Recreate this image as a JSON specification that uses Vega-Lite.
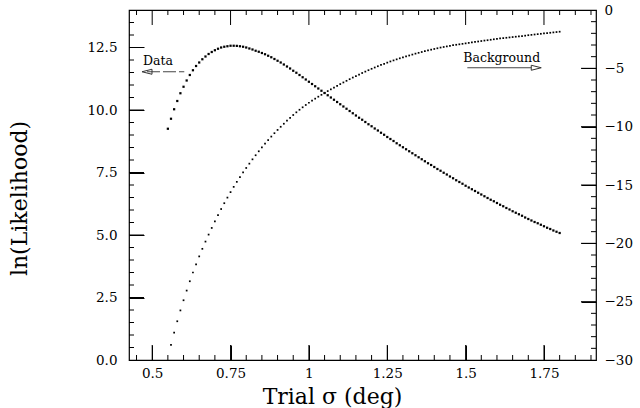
{
"$schema": "https://vega.github.io/schema/vega-lite/v6.json",
"width": 467,
"height": 350,
"autosize": {"type": "none"},
"padding": {"left": 129, "top": 10, "right": 44, "bottom": 48},
"background": "white",
"config": {"view": {"stroke": "black", "strokeWidth": 1.2}},
"datasets": {
"likelihood": [
{"x":0.55,"v":9.25},{"x":0.56,"v":9.65},{"x":0.57,"v":10.03},{"x":0.58,"v":10.36},{"x":0.59,"v":10.67},{"x":0.60,"v":10.93},{"x":0.61,"v":11.18},{"x":0.62,"v":11.40},{"x":0.63,"v":11.59},{"x":0.64,"v":11.76},{"x":0.65,"v":11.90},{"x":0.66,"v":12.03},{"x":0.67,"v":12.14},{"x":0.68,"v":12.24},{"x":0.69,"v":12.32},{"x":0.70,"v":12.39},{"x":0.71,"v":12.45},{"x":0.72,"v":12.50},{"x":0.73,"v":12.53},{"x":0.74,"v":12.55},{"x":0.75,"v":12.57},{"x":0.76,"v":12.57},{"x":0.77,"v":12.565},{"x":0.78,"v":12.55},{"x":0.79,"v":12.53},{"x":0.80,"v":12.50},{"x":0.81,"v":12.46},{"x":0.82,"v":12.42},{"x":0.83,"v":12.37},{"x":0.84,"v":12.33},{"x":0.85,"v":12.28},{"x":0.86,"v":12.23},{"x":0.87,"v":12.17},{"x":0.88,"v":12.11},{"x":0.89,"v":12.04},{"x":0.90,"v":11.97},{"x":0.91,"v":11.90},{"x":0.92,"v":11.82},{"x":0.93,"v":11.74},{"x":0.94,"v":11.66},{"x":0.95,"v":11.57},{"x":0.96,"v":11.49},{"x":0.97,"v":11.40},{"x":0.98,"v":11.31},{"x":0.99,"v":11.22},{"x":1.00,"v":11.13},{"x":1.01,"v":11.04},{"x":1.02,"v":10.95},{"x":1.03,"v":10.86},{"x":1.04,"v":10.77},{"x":1.05,"v":10.68},{"x":1.06,"v":10.59},{"x":1.07,"v":10.50},{"x":1.08,"v":10.41},{"x":1.09,"v":10.32},{"x":1.10,"v":10.23},{"x":1.11,"v":10.14},{"x":1.12,"v":10.05},{"x":1.13,"v":9.96},{"x":1.14,"v":9.87},{"x":1.15,"v":9.78},{"x":1.16,"v":9.69},{"x":1.17,"v":9.61},{"x":1.18,"v":9.52},{"x":1.19,"v":9.43},{"x":1.20,"v":9.35},{"x":1.21,"v":9.26},{"x":1.22,"v":9.18},{"x":1.23,"v":9.09},{"x":1.24,"v":9.01},{"x":1.25,"v":8.92},{"x":1.26,"v":8.84},{"x":1.27,"v":8.76},{"x":1.28,"v":8.67},{"x":1.29,"v":8.59},{"x":1.30,"v":8.51},{"x":1.31,"v":8.43},{"x":1.32,"v":8.35},{"x":1.33,"v":8.27},{"x":1.34,"v":8.19},{"x":1.35,"v":8.11},{"x":1.36,"v":8.03},{"x":1.37,"v":7.95},{"x":1.38,"v":7.87},{"x":1.39,"v":7.80},{"x":1.40,"v":7.72},{"x":1.41,"v":7.64},{"x":1.42,"v":7.57},{"x":1.43,"v":7.49},{"x":1.44,"v":7.42},{"x":1.45,"v":7.34},{"x":1.46,"v":7.27},{"x":1.47,"v":7.19},{"x":1.48,"v":7.12},{"x":1.49,"v":7.05},{"x":1.50,"v":6.97},{"x":1.51,"v":6.90},{"x":1.52,"v":6.83},{"x":1.53,"v":6.76},{"x":1.54,"v":6.69},{"x":1.55,"v":6.62},{"x":1.56,"v":6.55},{"x":1.57,"v":6.48},{"x":1.58,"v":6.41},{"x":1.59,"v":6.35},{"x":1.60,"v":6.28},{"x":1.61,"v":6.21},{"x":1.62,"v":6.15},{"x":1.63,"v":6.08},{"x":1.64,"v":6.02},{"x":1.65,"v":5.95},{"x":1.66,"v":5.89},{"x":1.67,"v":5.83},{"x":1.68,"v":5.77},{"x":1.69,"v":5.70},{"x":1.70,"v":5.64},{"x":1.71,"v":5.58},{"x":1.72,"v":5.52},{"x":1.73,"v":5.47},{"x":1.74,"v":5.41},{"x":1.75,"v":5.35},{"x":1.76,"v":5.29},{"x":1.77,"v":5.24},{"x":1.78,"v":5.18},{"x":1.79,"v":5.13},{"x":1.80,"v":5.08}
],
"background": [
{"x":0.56,"v":-28.70},{"x":0.57,"v":-27.65},{"x":0.58,"v":-26.68},{"x":0.59,"v":-25.75},{"x":0.60,"v":-24.88},{"x":0.61,"v":-24.05},{"x":0.62,"v":-23.25},{"x":0.63,"v":-22.50},{"x":0.64,"v":-21.80},{"x":0.65,"v":-21.12},{"x":0.66,"v":-20.47},{"x":0.67,"v":-19.85},{"x":0.68,"v":-19.25},{"x":0.69,"v":-18.68},{"x":0.70,"v":-18.12},{"x":0.71,"v":-17.58},{"x":0.72,"v":-17.06},{"x":0.73,"v":-16.56},{"x":0.74,"v":-16.08},{"x":0.75,"v":-15.61},{"x":0.76,"v":-15.16},{"x":0.77,"v":-14.73},{"x":0.78,"v":-14.32},{"x":0.79,"v":-13.92},{"x":0.80,"v":-13.54},{"x":0.81,"v":-13.17},{"x":0.82,"v":-12.80},{"x":0.83,"v":-12.45},{"x":0.84,"v":-12.11},{"x":0.85,"v":-11.78},{"x":0.86,"v":-11.46},{"x":0.87,"v":-11.15},{"x":0.88,"v":-10.85},{"x":0.89,"v":-10.56},{"x":0.90,"v":-10.28},{"x":0.91,"v":-10.01},{"x":0.92,"v":-9.75},{"x":0.93,"v":-9.49},{"x":0.94,"v":-9.24},{"x":0.95,"v":-9.00},{"x":0.96,"v":-8.77},{"x":0.97,"v":-8.55},{"x":0.98,"v":-8.34},{"x":0.99,"v":-8.14},{"x":1.00,"v":-7.95},{"x":1.01,"v":-7.77},{"x":1.02,"v":-7.60},{"x":1.03,"v":-7.43},{"x":1.04,"v":-7.27},{"x":1.05,"v":-7.11},{"x":1.06,"v":-6.95},{"x":1.07,"v":-6.80},{"x":1.08,"v":-6.65},{"x":1.09,"v":-6.50},{"x":1.10,"v":-6.35},{"x":1.11,"v":-6.21},{"x":1.12,"v":-6.07},{"x":1.13,"v":-5.93},{"x":1.14,"v":-5.79},{"x":1.15,"v":-5.66},{"x":1.16,"v":-5.53},{"x":1.17,"v":-5.40},{"x":1.18,"v":-5.28},{"x":1.19,"v":-5.16},{"x":1.20,"v":-5.04},{"x":1.21,"v":-4.93},{"x":1.22,"v":-4.82},{"x":1.23,"v":-4.71},{"x":1.24,"v":-4.61},{"x":1.25,"v":-4.51},{"x":1.26,"v":-4.41},{"x":1.27,"v":-4.32},{"x":1.28,"v":-4.23},{"x":1.29,"v":-4.14},{"x":1.30,"v":-4.06},{"x":1.31,"v":-3.98},{"x":1.32,"v":-3.90},{"x":1.33,"v":-3.82},{"x":1.34,"v":-3.74},{"x":1.35,"v":-3.67},{"x":1.36,"v":-3.60},{"x":1.37,"v":-3.53},{"x":1.38,"v":-3.46},{"x":1.39,"v":-3.40},{"x":1.40,"v":-3.34},{"x":1.41,"v":-3.28},{"x":1.42,"v":-3.22},{"x":1.43,"v":-3.17},{"x":1.44,"v":-3.12},{"x":1.45,"v":-3.07},{"x":1.46,"v":-3.02},{"x":1.47,"v":-2.98},{"x":1.48,"v":-2.94},{"x":1.49,"v":-2.90},{"x":1.50,"v":-2.86},{"x":1.51,"v":-2.82},{"x":1.52,"v":-2.78},{"x":1.53,"v":-2.74},{"x":1.54,"v":-2.70},{"x":1.55,"v":-2.66},{"x":1.56,"v":-2.62},{"x":1.57,"v":-2.59},{"x":1.58,"v":-2.55},{"x":1.59,"v":-2.51},{"x":1.60,"v":-2.48},{"x":1.61,"v":-2.44},{"x":1.62,"v":-2.41},{"x":1.63,"v":-2.38},{"x":1.64,"v":-2.35},{"x":1.65,"v":-2.32},{"x":1.66,"v":-2.29},{"x":1.67,"v":-2.26},{"x":1.68,"v":-2.23},{"x":1.69,"v":-2.20},{"x":1.70,"v":-2.16},{"x":1.71,"v":-2.13},{"x":1.72,"v":-2.10},{"x":1.73,"v":-2.07},{"x":1.74,"v":-2.04},{"x":1.75,"v":-2.01},{"x":1.76,"v":-1.98},{"x":1.77,"v":-1.95},{"x":1.78,"v":-1.92},{"x":1.79,"v":-1.89},{"x":1.80,"v":-1.86}
],
"xmajor": [{"v":0.5},{"v":0.75},{"v":1},{"v":1.25},{"v":1.5},{"v":1.75}],
"xminor": [{"v":0.45},{"v":0.55},{"v":0.6},{"v":0.65},{"v":0.7},{"v":0.8},{"v":0.85},{"v":0.9},{"v":0.95},{"v":1.05},{"v":1.1},{"v":1.15},{"v":1.2},{"v":1.3},{"v":1.35},{"v":1.4},{"v":1.45},{"v":1.55},{"v":1.6},{"v":1.65},{"v":1.7},{"v":1.8},{"v":1.85},{"v":1.9}],
"lmajor": [{"v":2.5},{"v":5},{"v":7.5},{"v":10},{"v":12.5}],
"lminor": [{"v":0.5},{"v":1},{"v":1.5},{"v":2},{"v":3},{"v":3.5},{"v":4},{"v":4.5},{"v":5.5},{"v":6},{"v":6.5},{"v":7},{"v":8},{"v":8.5},{"v":9},{"v":9.5},{"v":10.5},{"v":11},{"v":11.5},{"v":12},{"v":13},{"v":13.5}],
"rmajor": [{"v":-25},{"v":-20},{"v":-15},{"v":-10},{"v":-5}],
"rminor": [{"v":-29},{"v":-28},{"v":-27},{"v":-26},{"v":-24},{"v":-23},{"v":-22},{"v":-21},{"v":-19},{"v":-18},{"v":-17},{"v":-16},{"v":-14},{"v":-13},{"v":-12},{"v":-11},{"v":-9},{"v":-8},{"v":-7},{"v":-6},{"v":-4},{"v":-3},{"v":-2},{"v":-1}],
"labels": [
{"label":"Data","x":0.4707,"y":11.8},
{"label":"Background","x":1.4927,"y":11.94}
],
"arrows": [
{"name":"Data","x":0.4834,"x2":0.6024,"y":11.53,"head":0.4834},
{"name":"Background","x":1.5055,"x2":1.7254,"y":11.69,"head":1.7254}
]
},
"resolve": {"scale": {"y": "independent"}, "axis": {"x": "independent", "y": "independent"}},
"layer": [
{
"data": {"name": "likelihood"},
"mark": {"type": "point", "shape": "square", "filled": true, "size": 5, "color": "black", "opacity": 1, "strokeWidth": 0},
"encoding": {
"x": {"field": "x", "type": "quantitative", "scale": {"domain": [0.426, 1.916], "nice": false, "zero": false},
 "axis": {"orient": "bottom", "values": [0.5,0.75,1,1.25,1.5,1.75], "labelExpr": "format(datum.value, '.2~f')",
 "offset": -15, "ticks": true, "tickSize": 15, "domain": false, "labelPadding": 6, "labelFlush": false, "labelOverlap": false, "labelBound": false,
 "grid": false, "tickColor": "black", "tickWidth": 1, "labelColor": "black",
 "labelFont": "DejaVu Serif", "labelFontSize": 13.5,
 "title": "Trial σ (deg)", "titleFont": "DejaVu Serif", "titleFontSize": 22, "titleFontWeight": "normal", "titleColor": "black",
 "titleX": 203, "titleY": 58, "titleBaseline": "alphabetic", "titleAlign": "center"}},
"y": {"field": "v", "type": "quantitative", "scale": {"domain": [0, 14], "nice": false, "zero": false},
 "axis": {"orient": "left", "values": [0,2.5,5,7.5,10,12.5], "format": ".1f",
 "offset": -15, "ticks": true, "tickSize": 15, "domain": false, "labelPadding": 12, "labelFlush": false, "labelOverlap": false, "labelBound": false,
 "grid": false, "tickColor": "black", "tickWidth": 1, "labelColor": "black",
 "labelFont": "DejaVu Serif", "labelFontSize": 13.5,
 "title": "ln(Likelihood)", "titleFont": "DejaVu Serif", "titleFontSize": 22, "titleFontWeight": "normal", "titleColor": "black",
 "titleX": -125, "titleY": 188, "titleBaseline": "middle", "titleAlign": "center", "titleAngle": -90}}
}
},
{
"data": {"name": "background"},
"mark": {"type": "point", "shape": "square", "filled": true, "size": 3, "color": "black", "opacity": 1, "strokeWidth": 0},
"encoding": {
"x": {"field": "x", "type": "quantitative", "scale": {"domain": [0.426, 1.916], "nice": false, "zero": false}, "axis": null},
"y": {"field": "v", "type": "quantitative", "scale": {"domain": [-30, 0], "nice": false, "zero": false},
 "axis": {"orient": "right", "values": [-30,-25,-20,-15,-10,-5,0], "format": "d",
 "offset": -15, "ticks": true, "tickSize": 15, "domain": false, "labelPadding": 8, "labelFlush": false, "labelOverlap": false, "labelBound": false,
 "grid": false, "tickColor": "black", "tickWidth": 1, "labelColor": "black",
 "labelFont": "DejaVu Serif", "labelFontSize": 13.5, "title": null}}
}
},
{
"data": {"name": "xmajor"},
"mark": {"type": "rule", "color": "black", "strokeWidth": 1, "strokeDash": [15, 320]},
"encoding": {
"x": {"field": "v", "type": "quantitative", "scale": {"domain": [0.426, 1.916], "nice": false, "zero": false}, "axis": null}
}
},
{
"data": {"name": "xminor"},
"mark": {"type": "rule", "color": "black", "strokeWidth": 1, "strokeDash": [5, 340]},
"encoding": {
"x": {"field": "v", "type": "quantitative", "scale": {"domain": [0.426, 1.916], "nice": false, "zero": false}, "axis": null}
}
},
{
"data": {"name": "lmajor"},
"mark": {"type": "rule", "color": "black", "strokeWidth": 1},
"encoding": {
"y": {"field": "v", "type": "quantitative", "scale": {"domain": [0, 14], "nice": false, "zero": false}, "axis": null},
"x": {"datum": 0.426, "type": "quantitative", "scale": {"domain": [0.426, 1.916], "nice": false, "zero": false}, "axis": null},
"x2": {"datum": 0.4739}
}
},
{
"data": {"name": "lminor"},
"mark": {"type": "rule", "color": "black", "strokeWidth": 1},
"encoding": {
"y": {"field": "v", "type": "quantitative", "scale": {"domain": [0, 14], "nice": false, "zero": false}, "axis": null},
"x": {"datum": 0.426, "type": "quantitative", "scale": {"domain": [0.426, 1.916], "nice": false, "zero": false}, "axis": null},
"x2": {"datum": 0.442}
}
},
{
"data": {"name": "rmajor"},
"mark": {"type": "rule", "color": "black", "strokeWidth": 1},
"encoding": {
"y": {"field": "v", "type": "quantitative", "scale": {"domain": [-30, 0], "nice": false, "zero": false}, "axis": null},
"x": {"datum": 1.916, "type": "quantitative", "scale": {"domain": [0.426, 1.916], "nice": false, "zero": false}, "axis": null},
"x2": {"datum": 1.8681}
}
},
{
"data": {"name": "rminor"},
"mark": {"type": "rule", "color": "black", "strokeWidth": 1},
"encoding": {
"y": {"field": "v", "type": "quantitative", "scale": {"domain": [-30, 0], "nice": false, "zero": false}, "axis": null},
"x": {"datum": 1.916, "type": "quantitative", "scale": {"domain": [0.426, 1.916], "nice": false, "zero": false}, "axis": null},
"x2": {"datum": 1.900}
}
},
{
"data": {"name": "labels"},
"mark": {"type": "text", "align": "left", "baseline": "alphabetic", "font": "DejaVu Serif", "fontSize": 12.5, "color": "black"},
"encoding": {
"x": {"field": "x", "type": "quantitative", "scale": {"domain": [0.426, 1.916], "nice": false, "zero": false}, "axis": null},
"y": {"field": "y", "type": "quantitative", "scale": {"domain": [0, 14], "nice": false, "zero": false}, "axis": null},
"text": {"field": "label"}
}
},
{
"data": {"name": "arrows"},
"transform": [{"filter": "datum.name == 'Data'"}],
"mark": {"type": "rule", "color": "#444", "strokeWidth": 1, "strokeDash": [13, 3]},
"encoding": {
"x": {"field": "x", "type": "quantitative", "scale": {"domain": [0.426, 1.916], "nice": false, "zero": false}, "axis": null},
"x2": {"field": "x2"},
"y": {"field": "y", "type": "quantitative", "scale": {"domain": [0, 14], "nice": false, "zero": false}, "axis": null}
}
},
{
"data": {"name": "arrows"},
"transform": [{"filter": "datum.name == 'Background'"}],
"mark": {"type": "rule", "color": "#444", "strokeWidth": 1},
"encoding": {
"x": {"field": "x", "type": "quantitative", "scale": {"domain": [0.426, 1.916], "nice": false, "zero": false}, "axis": null},
"x2": {"field": "x2"},
"y": {"field": "y", "type": "quantitative", "scale": {"domain": [0, 14], "nice": false, "zero": false}, "axis": null}
}
},
{
"data": {"name": "arrows"},
"transform": [{"filter": "datum.name == 'Data'"}],
"mark": {"type": "point", "shape": "M1,-0.5L-1,0L1,0.5Z", "size": 100, "filled": false, "color": "#333", "strokeWidth": 1, "opacity": 1},
"encoding": {
"x": {"field": "head", "type": "quantitative", "scale": {"domain": [0.426, 1.916], "nice": false, "zero": false}, "axis": null},
"y": {"field": "y", "type": "quantitative", "scale": {"domain": [0, 14], "nice": false, "zero": false}, "axis": null}
}
},
{
"data": {"name": "arrows"},
"transform": [{"filter": "datum.name == 'Background'"}],
"mark": {"type": "point", "shape": "M-1,-0.5L1,0L-1,0.5Z", "size": 100, "filled": true, "fill": "white", "stroke": "#333", "strokeWidth": 1, "opacity": 1},
"encoding": {
"x": {"field": "head", "type": "quantitative", "scale": {"domain": [0.426, 1.916], "nice": false, "zero": false}, "axis": null},
"y": {"field": "y", "type": "quantitative", "scale": {"domain": [0, 14], "nice": false, "zero": false}, "axis": null}
}
}
]
}
